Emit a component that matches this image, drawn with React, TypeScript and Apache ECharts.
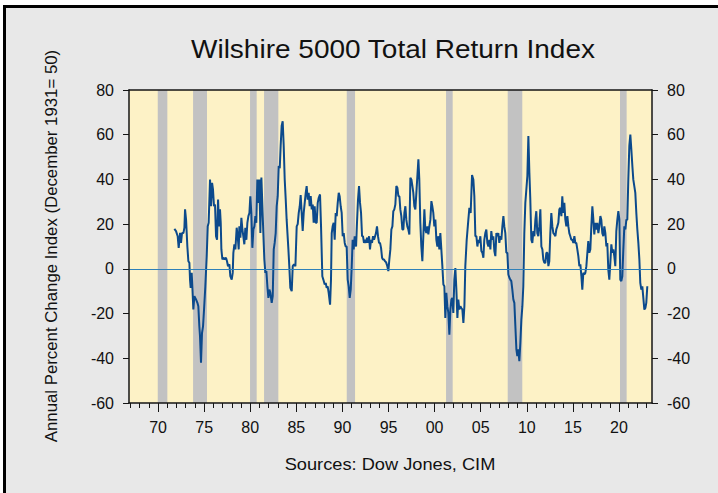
import React, { useEffect, useRef } from "react";
import * as echarts from "echarts";

const TITLE = "Wilshire 5000 Total Return Index";
const Y_NAME = "Annual Percent Change Index (December 1931= 50)";
const SOURCE = "Sources: Dow Jones, CIM";

const X_MIN = 1966.85;
const X_MAX = 2023.58;
const Y_MIN = -60;
const Y_MAX = 80;
const Y_STEP = 20;
const ZERO_LINE = [0];

const minorYears: number[] = [1967,1968,1969,1970,1971,1972,1973,1974,1975,1976,1977,1978,1979,1980,1981,1982,1983,1984,1985,1986,1987,1988,1989,1990,1991,1992,1993,1994,1995,1996,1997,1998,1999,2000,2001,2002,2003,2004,2005,2006,2007,2008,2009,2010,2011,2012,2013,2014,2015,2016,2017,2018,2019,2020,2021,2022,2023];
const majorYears: number[] = [1970,1975,1980,1985,1990,1995,2000,2005,2010,2015,2020];

const recessionStart: number[] = [1969.97, 1973.80, 1979.98, 1981.50, 1990.47, 2001.24, 2007.93, 2020.11];
const recessionEnd: number[] = [1971.01, 1975.31, 1980.70, 1983.05, 1991.37, 2001.96, 2009.51, 2020.83];

const years1970s: number[] = [1971.77,1971.95,1972.13,1972.24,1972.39,1972.49,1972.60,1972.75,1972.86,1972.93,1973.04,1973.11,1973.18,1973.29,1973.40,1973.47,1973.54,1973.65,1973.72,1973.83,1973.94,1974.12,1974.27,1974.37,1974.48,1974.55,1974.66,1974.77,1974.88,1974.99,1975.13,1975.28,1975.39,1975.49,1975.64,1975.75,1975.86,1975.96,1976.07,1976.18,1976.29,1976.40,1976.51,1976.62,1976.72,1976.80,1976.87,1976.98,1977.09,1977.23,1977.37,1977.48,1977.59,1977.74,1977.84,1977.99,1978.10,1978.17,1978.28,1978.39,1978.53,1978.64,1978.75,1978.82,1978.93,1979.04,1979.15,1979.25,1979.36,1979.47,1979.58,1979.69,1979.80,1979.91];
const values1970s: number[] = [17.9,16.9,14.6,9.4,16.1,11.6,16,16,18.4,26.6,22,16,10,3.4,2.7,-4.8,-8.5,-1.8,-7.8,-18.2,-12.2,-13.7,-15.2,-16.7,-25.7,-30,-42,-28.7,-25.7,-18.2,-7.8,5.7,19.1,20.6,40,28,38.5,35.5,28,28.8,14.6,13,31,19,26.6,20.6,8.7,4.2,5,4.2,5,3.4,1.2,2,-3.3,-4.8,-1.8,7.2,11,8.7,18.4,14.6,8.7,19,13.9,22.8,17.6,14.6,11,18.4,13,20.6,23.6,25];

const years1980s: number[] = [1980.01,1980.12,1980.23,1980.34,1980.45,1980.56,1980.66,1980.77,1980.88,1980.99,1981.10,1981.21,1981.32,1981.42,1981.53,1981.64,1981.75,1981.86,1981.97,1982.08,1982.18,1982.33,1982.44,1982.55,1982.65,1982.76,1982.87,1982.98,1983.09,1983.20,1983.30,1983.41,1983.52,1983.63,1983.74,1983.85,1983.95,1984.14,1984.24,1984.35,1984.50,1984.61,1984.75,1984.90,1985.04,1985.15,1985.26,1985.37,1985.47,1985.58,1985.69,1985.80,1985.91,1986.02,1986.12,1986.23,1986.34,1986.45,1986.56,1986.67,1986.78,1986.88,1986.99,1987.10,1987.21,1987.32,1987.43,1987.57,1987.68,1987.82,1987.93,1988.08,1988.19,1988.29,1988.40,1988.51,1988.66,1988.76,1988.84,1988.94,1989.05,1989.16,1989.27,1989.38,1989.49,1989.60,1989.70,1989.81,1989.92];
const values1980s: number[] = [32.5,25,9.4,17.6,19,23.6,20.6,40,29.5,40,16,40.9,28,16,4.2,-1.8,-1,-7.8,-13,-9.3,-10.7,-15.2,-12.2,8.7,11.6,16,28,32.5,46,45,55,64,66,55,40,31,22,8.7,1,-8.5,-10,1.2,2,1.2,19,20,25,28,33,25,17,25,29.5,34,37,31,34,28,32.5,26.6,28.8,20.6,28,20.6,20.6,29.5,31.8,33.3,19,-3.3,-4.8,-7,-6.3,-8.5,-7.8,-10.7,-16,-4.8,16,19,20.6,13,25,23.6,29.5,34,32.5,28,25];

const years1990s: number[] = [1990.03,1990.14,1990.25,1990.35,1990.46,1990.57,1990.68,1990.79,1990.90,1991.01,1991.11,1991.22,1991.33,1991.48,1991.58,1991.69,1991.80,1991.91,1992.02,1992.13,1992.23,1992.34,1992.45,1992.56,1992.67,1992.78,1992.89,1992.99,1993.10,1993.21,1993.32,1993.43,1993.54,1993.64,1993.75,1993.86,1993.97,1994.08,1994.19,1994.30,1994.40,1994.51,1994.62,1994.73,1994.87,1994.98,1995.09,1995.20,1995.31,1995.42,1995.52,1995.63,1995.74,1995.85,1995.96,1996.07,1996.18,1996.28,1996.39,1996.50,1996.61,1996.72,1996.83,1996.93,1997.04,1997.15,1997.26,1997.37,1997.48,1997.59,1997.69,1997.80,1997.91,1998.02,1998.13,1998.24,1998.34,1998.45,1998.56,1998.67,1998.78,1998.89,1998.99,1999.10,1999.21,1999.32,1999.43,1999.54,1999.65,1999.75,1999.86,1999.97];
const values1990s: number[] = [14.6,16,11.6,10,10,-4.8,-7.8,-13,-9.3,1.2,13,8.7,14.6,10,20.6,31,37,29.5,25,14.6,14.6,11.6,13,11.6,13.9,11.6,14.6,8.7,13,11.6,14.6,13,14.6,16,19,14.6,11.6,11.6,9.4,5,4.2,4.2,3.4,3,1.2,-1,4.2,8.7,17.6,19,25.8,26.6,28.8,37,36.3,32.5,32.5,26.6,23.6,17.6,17.6,25,28,22,19,17.6,15.4,40.7,40,37,34,28,26.6,34,41.5,49,40,20.6,10,3.4,15,26.6,17.6,16,19,15.4,19,22,30.3,28,25,19];

const years2000s: number[] = [2000.08,2000.19,2000.30,2000.41,2000.51,2000.62,2000.73,2000.84,2000.95,2001.06,2001.16,2001.27,2001.38,2001.49,2001.60,2001.71,2001.82,2001.92,2002.03,2002.14,2002.25,2002.36,2002.47,2002.57,2002.68,2002.79,2002.90,2003.01,2003.12,2003.23,2003.33,2003.48,2003.66,2003.77,2003.91,2004.06,2004.20,2004.31,2004.42,2004.53,2004.64,2004.74,2004.85,2004.96,2005.07,2005.18,2005.29,2005.39,2005.50,2005.61,2005.72,2005.83,2005.94,2006.05,2006.15,2006.26,2006.37,2006.48,2006.59,2006.70,2006.80,2006.91,2007.02,2007.13,2007.24,2007.35,2007.46,2007.56,2007.67,2007.78,2007.89,2008.00,2008.11,2008.21,2008.32,2008.43,2008.54,2008.65,2008.76,2008.87,2008.97,2009.08,2009.19,2009.30,2009.41,2009.52,2009.62,2009.73,2009.84,2009.95];
const values2000s: number[] = [22,13,10,14.6,8.7,16,8.7,1.2,-7,-7.8,-22,-10.7,-16.7,-19.7,-29.4,-18.2,-13.7,-13,-19.7,-4.8,0.4,-9.3,-22,-13.7,-18.2,-16.7,-17.5,-18.2,-24.2,-16.7,1.2,13,22,27.3,25,42,40,32.5,14.6,14.6,10,13,11.6,14.6,8,7.2,5,13,16,17.6,11.6,10,13,8.7,16.9,13,14.6,8,5.7,16,14.6,16,11.6,14.6,13,19,23.6,19,16,7.2,7.2,-2.5,-4,-4.8,-5.5,-9.3,-13.7,-15.2,-25.7,-36,-39,-36,-41.3,-33,-22.7,-16.7,-7.8,16,29.5,35.5];

const years2010s: number[] = [2010.06,2010.17,2010.28,2010.38,2010.49,2010.60,2010.71,2010.82,2010.93,2011.03,2011.14,2011.25,2011.36,2011.47,2011.58,2011.69,2011.79,2011.90,2012.01,2012.12,2012.23,2012.34,2012.44,2012.55,2012.66,2012.77,2012.88,2012.99,2013.10,2013.20,2013.31,2013.42,2013.53,2013.64,2013.75,2013.85,2013.96,2014.07,2014.18,2014.29,2014.40,2014.51,2014.61,2014.72,2014.83,2014.94,2015.05,2015.16,2015.26,2015.37,2015.48,2015.59,2015.70,2015.81,2015.92,2016.02,2016.13,2016.24,2016.35,2016.46,2016.57,2016.67,2016.78,2016.89,2017.00,2017.11,2017.22,2017.32,2017.43,2017.54,2017.65,2017.76,2017.87,2017.98,2018.08,2018.19,2018.30,2018.41,2018.52,2018.63,2018.73,2018.84,2018.95,2019.06,2019.17,2019.28,2019.39,2019.49,2019.60,2019.71,2019.82,2019.93];
const values2010s: number[] = [41.5,59.4,43,31,13,11.6,16.9,14.6,22,25.8,16,14.6,19,26.6,10,8.7,4.2,2.7,2.7,7.2,7.2,1.2,3.4,16,25,19,16,15.4,14.6,17.6,19,20.6,26.6,27.3,23.6,32.5,25,29.5,22,19,23.6,19,16,14.6,13,13,11.6,14.6,11.6,11.6,8.7,5.7,1.2,2,-3.3,-9.3,-1.8,-2.5,-1.8,1.2,7.2,12.4,7.2,8.7,19,28,22,15.4,20.6,17.6,20.6,16,19,23.6,22,16,14.6,19,16,10,11.6,-0.3,-4.8,2.7,11,7.2,8.7,5.7,1.2,16.9,22,25.8];

const years2020s: number[] = [2020.04,2020.14,2020.25,2020.36,2020.47,2020.58,2020.69,2020.80,2020.90,2021.01,2021.12,2021.23,2021.34,2021.45,2021.55,2021.66,2021.77,2021.88,2021.99,2022.10,2022.21,2022.31,2022.42,2022.53,2022.64,2022.75,2022.86,2022.96,2023.07];
const values2020s: number[] = [22,-4.8,-5.5,-3.3,8.7,19,17.6,22,22,40,55,60.1,53.4,46,40,37,34,25,17.6,11.6,4.2,-6.3,-9.3,-7.8,-13,-18.2,-17.5,-15.2,-7.8];

const FONT = '"Liberation Sans", Arial, Helvetica, sans-serif';

export default function App() {
  const ref = useRef<HTMLDivElement>(null);
  useEffect(() => {
    if (!ref.current) return;
    const chart = echarts.init(ref.current, undefined, { renderer: "svg" });
    const allYears = [...years1970s, ...years1980s, ...years1990s, ...years2000s, ...years2010s, ...years2020s];
    const allValues = [...values1970s, ...values1980s, ...values1990s, ...values2000s, ...values2010s, ...values2020s];
    const lineData = allYears.map((y, i) => [y, allValues[i]]);
    const bands = recessionStart.map((s, i) => [{ xAxis: s }, { xAxis: recessionEnd[i] }]);
    const axisColor = "#151515";
    const yAxisBase = {
      type: "value",
      min: Y_MIN,
      max: Y_MAX,
      interval: Y_STEP,
      z: 10,
      axisLine: { show: true, onZero: false, lineStyle: { color: axisColor, width: 1.5 } },
      axisTick: { show: true, length: 6, lineStyle: { color: axisColor, width: 1 } },
      axisLabel: { fontSize: 16, margin: 15, color: "#111", fontFamily: FONT },
      splitLine: { show: false },
    };
    const option: any = {
      animation: false,
      backgroundColor: "transparent",
      textStyle: { fontFamily: FONT },
      grid: { left: 129, top: 90, width: 523, height: 313, show: true, backgroundColor: "#fdf2c6", borderWidth: 0 },
      xAxis: [
        {
          type: "value", min: X_MIN, max: X_MAX, position: "bottom", z: 10,
          axisLine: { show: true, onZero: false, lineStyle: { color: axisColor, width: 1.5 } },
          axisTick: { show: true, customValues: minorYears, length: 5, lineStyle: { color: axisColor, width: 1 } },
          axisLabel: {
            show: true, customValues: majorYears, margin: 16, fontSize: 16, color: "#111", fontFamily: FONT,
            formatter: (v: number) => String(Math.round(v) % 100).padStart(2, "0"),
          },
          splitLine: { show: false },
        },
        {
          type: "value", min: X_MIN, max: X_MAX, position: "bottom", z: 10,
          axisLine: { show: false, onZero: false },
          axisTick: { show: true, customValues: majorYears, length: 9, lineStyle: { color: axisColor, width: 1 } },
          axisLabel: { show: false },
          splitLine: { show: false },
        },
        {
          type: "value", min: X_MIN, max: X_MAX, position: "top", z: 10,
          axisLine: { show: true, onZero: false, lineStyle: { color: axisColor, width: 1.5 } },
          axisTick: { show: false },
          axisLabel: { show: false },
          splitLine: { show: false },
        },
      ],
      yAxis: [
        { ...yAxisBase, position: "left" },
        { ...yAxisBase, position: "right" },
      ],
      series: [
        {
          type: "line",
          data: [],
          xAxisIndex: 0,
          yAxisIndex: 0,
          z: 1,
          silent: true,
          markArea: { silent: true, itemStyle: { color: "#c2c2c2" }, data: bands },
        },
        {
          type: "line",
          data: lineData,
          xAxisIndex: 0,
          yAxisIndex: 0,
          z: 3,
          showSymbol: false,
          symbol: "none",
          color: "#0c4a8c",
          lineStyle: { color: "#0c4a8c", width: 2 },
          markLine: {
            silent: true, symbol: ["none", "none"], label: { show: false },
            lineStyle: { color: "#2f80b8", width: 1, type: "solid", opacity: 1 },
            emphasis: { disabled: true },
            data: ZERO_LINE.map((v) => ({ yAxis: v, lineStyle: { color: "#2f80b8", width: 1, type: "solid" } })),
          },
        },
      ],
      graphic: [
        {
          type: "text", x: 393, y: 49.5, scaleX: 1.12,
          style: { text: TITLE, font: `25px ${FONT}`, fill: "#111", textAlign: "center", textVerticalAlign: "middle" },
        },
        {
          type: "text", x: 51, y: 246, rotation: Math.PI / 2, scaleX: 1.05,
          style: { text: Y_NAME, font: `16px ${FONT}`, fill: "#111", textAlign: "center", textVerticalAlign: "middle" },
        },
        {
          type: "text", x: 390, y: 464, scaleX: 1.14,
          style: { text: SOURCE, font: `16px ${FONT}`, fill: "#111", textAlign: "center", textVerticalAlign: "middle" },
        },
      ],
    };
    chart.setOption(option);
    return () => chart.dispose();
  }, []);

  return (
    <div style={{ position: "fixed", left: 0, top: 0, width: 718, height: 493, background: "#ffffff", overflow: "hidden" }}>
      <div style={{ position: "absolute", left: 3, top: 5, width: 730, height: 510, border: "3px solid #000", background: "#e8e8e8", boxSizing: "border-box" }} />
      <div ref={ref} style={{ position: "absolute", left: 0, top: 0, width: 718, height: 493 }} />
    </div>
  );
}
